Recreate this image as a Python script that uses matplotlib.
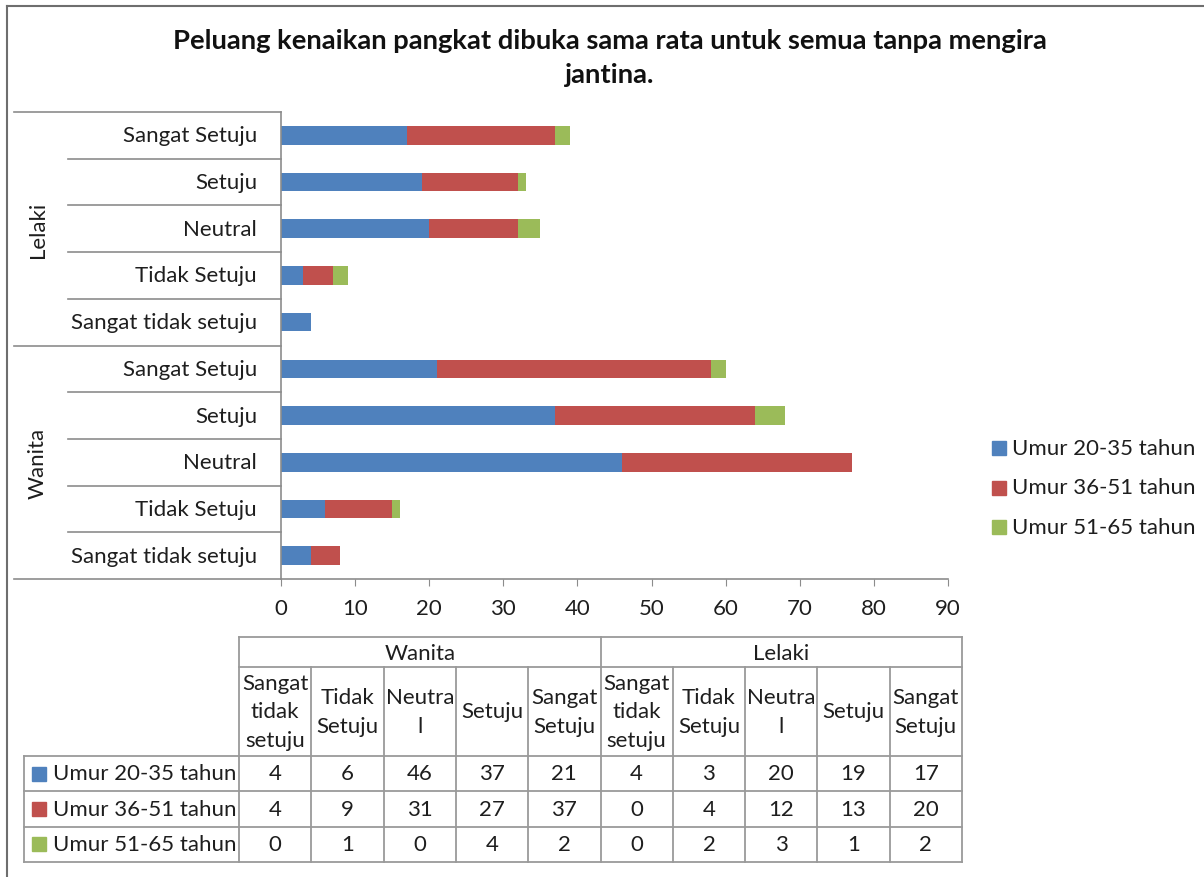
import numpy as np
import matplotlib.pyplot as plt
import matplotlib.transforms as mtransforms
from matplotlib.patches import Rectangle

plt.rcParams['font.family'] = ['Lato', 'DejaVu Sans']

# data (table order: Wanita then Lelaki, bottom to top in the chart)
groups = ['Wanita', 'Lelaki']
categories = ['Sangat tidak setuju', 'Tidak Setuju', 'Neutral', 'Setuju', 'Sangat Setuju']
table_headers = ['Sangat\ntidak\nsetuju', 'Tidak\nSetuju', 'Neutra\nl', 'Setuju', 'Sangat\nSetuju']
series_names = ['Umur 20-35 tahun', 'Umur 36-51 tahun', 'Umur 51-65 tahun']
umur_20_35 = [4, 6, 46, 37, 21, 4, 3, 20, 19, 17]
umur_36_51 = [4, 9, 31, 27, 37, 0, 4, 12, 13, 20]
umur_51_65 = [0, 1, 0, 4, 2, 0, 2, 3, 1, 2]
xticks = list(range(0, 91, 10))

title = 'Peluang kenaikan pangkat dibuka sama rata untuk semua tanpa mengira\njantina.'
colors = ['#4F81BD', '#C0504D', '#9BBB59']
gray = '#8c8c8c'
txt = '#1e1e1e'
fs = 16

W, H = 1204, 878
fig = plt.figure(figsize=(W / 100, H / 100), dpi=100)
# pixel coordinates, origin at top left
pix = mtransforms.Affine2D().scale(1 / W, -1 / H).translate(0, 1) + fig.transFigure

ax = fig.add_axes([281 / W, 1 - 580 / H, (948 - 281) / W, (580 - 113) / H])
series = [umur_20_35, umur_36_51, umur_51_65]
y = np.arange(len(umur_20_35))
left = np.zeros(len(y))
for vals, c in zip(series, colors):
    ax.barh(y, vals, left=left, height=0.4, color=c)
    left += np.array(vals)

ax.set_xlim(0, 90)
ax.set_ylim(-0.5, 9.5)
ax.set_xticks(xticks)
ax.set_xticklabels([str(t) for t in xticks], fontsize=fs)
ax.set_yticks([])
ax.tick_params(axis='x', length=5, color=gray, pad=9, labelcolor=txt)
for s in ['top', 'right']:
    ax.spines[s].set_visible(False)
for s in ['left', 'bottom']:
    ax.spines[s].set_color(gray)
    ax.spines[s].set_linewidth(1.2)

# category axis labels and separators
bt = mtransforms.blended_transform_factory(pix, ax.transData)
labels = categories + categories
for i, lab in enumerate(labels):
    ax.text(257, i, lab, transform=bt, ha='right', va='center', fontsize=fs, color=txt)
for i in range(len(labels) + 1):
    yy = i - 0.5
    x0 = 14 if i % 5 == 0 else 68
    ax.plot([x0, 281], [yy, yy], transform=bt, color=gray, lw=1.2, clip_on=False)
for g, name in enumerate(groups):
    ax.text(38, 5 * g + 2, name, transform=bt, rotation=90, ha='center', va='center',
            fontsize=fs, color=txt)

# legend
for k, (name, c) in enumerate(zip(series_names, colors)):
    yc = 449 + 39.5 * k
    fig.patches.append(Rectangle((992, yc - 7), 14, 14, transform=pix, color=c))
    fig.text(1012, yc, name, transform=pix, ha='left', va='center', fontsize=fs, color=txt)

# title
fig.text(610, 58, title, transform=pix, ha='center', va='center', fontsize=19.7,
         fontweight='bold', linespacing=1.5, color='#111111')

# data table
tgray = '#9a9a9a'
x0, x1 = 239, 962
cw = (x1 - x0) / 10
rows = [638, 668, 757, 792, 828, 863]

def hline(xa, xb, yy):
    fig.add_artist(plt.Line2D([xa, xb], [yy, yy], transform=pix, color=tgray, lw=1.3))

def vline(xx, ya, yb):
    fig.add_artist(plt.Line2D([xx, xx], [ya, yb], transform=pix, color=tgray, lw=1.3))

hline(x0, x1, rows[0])
hline(x0, x1, rows[1])
for r in rows[2:]:
    hline(24, x1, r)
vline(24, rows[2], rows[5])
vline(x0, rows[0], rows[5])
vline(x0 + 5 * cw, rows[0], rows[5])
vline(x1, rows[0], rows[5])
for j in range(1, 10):
    if j != 5:
        vline(x0 + j * cw, rows[1], rows[5])

for g, name in enumerate(groups):
    fig.text(x0 + (2.5 + 5 * g) * cw, (rows[0] + rows[1]) / 2 + 1, name, transform=pix,
             ha='center', va='center', fontsize=fs, color=txt)
for j in range(10):
    fig.text(x0 + (j + 0.5) * cw, (rows[1] + rows[2]) / 2, table_headers[j % 5], transform=pix,
             ha='center', va='center', fontsize=fs, linespacing=1.55, color=txt)
for r, (name, vals, c) in enumerate(zip(series_names, series, colors)):
    yc = (rows[2 + r] + rows[3 + r]) / 2
    fig.patches.append(Rectangle((32, yc - 7), 14, 14, transform=pix, color=c))
    fig.text(53, yc, name, transform=pix, ha='left', va='center', fontsize=fs, color=txt)
    for j, v in enumerate(vals):
        fig.text(x0 + (j + 0.5) * cw, yc, str(v), transform=pix, ha='center', va='center',
                 fontsize=fs, color=txt)

# chart border (top and left visible)
fig.add_artist(plt.Line2D([7, W], [7, 7], transform=pix, color='#6e6e6e', lw=1.5))
fig.add_artist(plt.Line2D([7, 7], [7, H], transform=pix, color='#6e6e6e', lw=1.5))

fig.savefig('out.png', dpi=100)
